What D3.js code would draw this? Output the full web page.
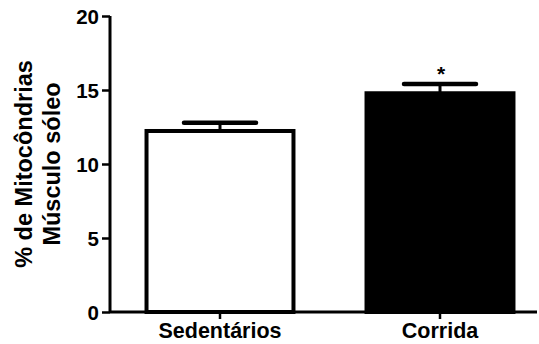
<!DOCTYPE html>
<html>
<head>
<meta charset="utf-8">
<script src="https://cdn.jsdelivr.net/npm/d3@7"></script>
<style>
  body { margin: 0; background: #fff; }
  svg text { font-family: "Liberation Sans", Arial, sans-serif; font-weight: bold; fill: #000; }
</style>
</head>
<body>
<div id="chart-container"></div>
<script>
const categories = ["Sedentários", "Corrida"];
const means = [12.23, 14.78];
const errors = [0.56, 0.63];
const fills = ["#ffffff", "#000000"];
const marks = ["", "*"];
const yTicks = [0, 5, 10, 15, 20];

const width = 539;
const height = 344;

const svg = d3
  .select("#chart-container")
  .append("svg")
  .attr("width", width)
  .attr("height", height);

//Scales
const x = d3.scaleBand().domain(categories).range([110, 550]).paddingInner(0.332).paddingOuter(0.166);
const y = d3.scaleLinear().domain([0, 20]).range([312, 16]);

//Bars
svg
  .selectAll("rect.bar")
  .data(categories)
  .join("rect")
  .attr("class", "bar")
  .attr("x", (d) => x(d))
  .attr("y", (d, i) => y(means[i]))
  .attr("width", x.bandwidth())
  .attr("height", (d, i) => y(0) - y(means[i]))
  .attr("fill", (d, i) => fills[i])
  .attr("stroke", "#000")
  .attr("stroke-width", 4);

//Error bars (upper only)
svg
  .selectAll("line.err")
  .data(categories)
  .join("line")
  .attr("class", "err")
  .attr("x1", (d) => x(d) + x.bandwidth() / 2)
  .attr("x2", (d) => x(d) + x.bandwidth() / 2)
  .attr("y1", (d, i) => y(means[i]))
  .attr("y2", (d, i) => y(means[i] + errors[i]))
  .attr("stroke", "#000")
  .attr("stroke-width", 3);

svg
  .selectAll("line.cap")
  .data(categories)
  .join("line")
  .attr("class", "cap")
  .attr("x1", (d) => x(d) + x.bandwidth() / 2 - 36)
  .attr("x2", (d) => x(d) + x.bandwidth() / 2 + 36)
  .attr("y1", (d, i) => y(means[i] + errors[i]))
  .attr("y2", (d, i) => y(means[i] + errors[i]))
  .attr("stroke", "#000")
  .attr("stroke-width", 4.5)
  .attr("stroke-linecap", "round");

//Significance marks
svg
  .selectAll("text.mark")
  .data(categories)
  .join("text")
  .attr("class", "mark")
  .attr("x", (d) => x(d) + x.bandwidth() / 2 + 1)
  .attr("y", (d, i) => y(means[i] + errors[i]) - 3)
  .attr("text-anchor", "middle")
  .style("font-size", "21px")
  .text((d, i) => marks[i]);

//Y axis
const yAxis = svg
  .append("g")
  .attr("transform", "translate(110,0)")
  .call(d3.axisLeft(y).tickValues(yTicks).tickSize(8).tickPadding(3));
yAxis.select(".domain").attr("stroke-width", 3).attr("d", "M0,16V312");
yAxis.selectAll(".tick line").attr("stroke-width", 2.5);
yAxis.selectAll(".tick text").style("font-size", "20.5px").attr("dy", "0.36em");

//X axis
const xAxis = svg
  .append("g")
  .attr("transform", "translate(0,312)")
  .call(d3.axisBottom(x).tickSize(7).tickPadding(8));
xAxis.select(".domain").attr("stroke-width", 3).attr("d", "M110,0H537");
xAxis.selectAll(".tick line").attr("stroke-width", 2.5);
xAxis.selectAll(".tick text").style("font-size", "21.5px").attr("y", 26).attr("dy", null);

//Y label
const yLabel = svg
  .append("text")
  .attr("transform", "translate(0,164) rotate(-90)")
  .attr("text-anchor", "middle")
  .style("font-size", "23.5px");
yLabel.append("tspan").attr("x", 0).attr("y", 32).text("% de Mitocôndrias");
yLabel.append("tspan").attr("x", 0).attr("y", 60).text("Músculo sóleo");
</script>
</body>
</html>
